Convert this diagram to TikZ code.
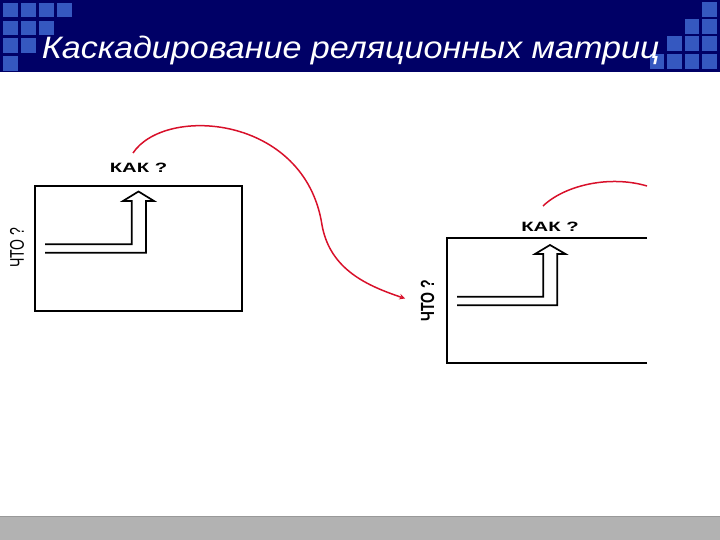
\documentclass[tikz,border=0pt]{standalone}
\usepackage{fontspec}
\setmainfont{Liberation Sans}
\definecolor{navy}{HTML}{000066}
\definecolor{tile}{HTML}{3558C0}
\definecolor{band}{HTML}{B2B2B2}
\definecolor{curve}{HTML}{D8102A}
\begin{document}
\begin{tikzpicture}[x=1pt, y=-1pt, >=stealth,
        frame/.style={line width=1.9pt},
        hollow/.style={line width=1.7pt, line join=miter},
        how/.style={font=\fontsize{13.5}{13.5}\selectfont\bfseries, xscale=1.5},
        red link/.style={draw=curve, line width=1.5pt}]
    \useasboundingbox (0,0) rectangle (720,540);
    % header and footer
    \fill[navy] (0,0) rectangle (720,72);
    \foreach \c/\r in {0/0,1/0,2/0,3/0,0/1,1/1,2/1,0/2,1/2,0/3}
        \fill[tile] (3+18*\c,3+17.7*\r) rectangle ++(14.5,14.5);
    \foreach \c/\r in {3/0,2/1,3/1,1/2,2/2,3/2,0/3,1/3,2/3,3/3}
        \fill[tile] (649.5+17.5*\c,2+17.2*\r) rectangle ++(14.5,15);
    \node[anchor=base west, text=white, font=\fontsize{31}{31}\selectfont\itshape, xscale=1.1] (title) at (38,59) {Каскадирование реляционных матриц};
    \fill[band] (0,516) rectangle (720,540);
    \draw[gray!80, line width=1pt] (0,516) -- (720,516);
    % first matrix
    \draw[frame] (35,186) rectangle (242,311);
    \draw[hollow] (45,244.3) -- (131.7,244.3) -- (131.7,201) -- (123,201) -- (138.5,191.5) -- (154,201) -- (146,201) -- (146,252.7) -- (45,252.7);
    \node[how] (how1) at (138.5,168) {КАК ?};
    \node[rotate=90, font=\fontsize{18}{18}\selectfont] (what1) at (17,248) {\scalebox{0.78}[1.1]{ЧТО ?}};
    % second matrix
    \draw[frame] (647,238.3) -- (447,238.3);
    \draw[frame] (647,363.3) -- (447,363.3);
    \draw[line width=2.8pt] (447,237.3) -- (447,364.3);
    \draw[hollow] (457,296.7) -- (543.3,296.7) -- (543.3,254) -- (535,254) -- (550,245) -- (565.5,254) -- (557.3,254) -- (557.3,305.3) -- (457,305.3);
    \node[how] (how2) at (550,226.5) {КАК ?};
    \node[rotate=90, font=\fontsize{19}{19}\selectfont\bfseries] (what2) at (427.5,301) {\scalebox{0.74}[1]{ЧТО ?}};
    % cascade links
    \coordinate (from1) at (133,153);
    \coordinate (to2) at (405,298.5);
    \coordinate (from2) at (543,206);
    \coordinate (out2) at (647,186);
    \draw[red link, ->] (from1) .. controls (165,105) and (305,115) .. (322,225) .. controls (330,270) and (368,286) .. (to2);
    \draw[red link] (from2) .. controls (565,185) and (610,175) .. (out2);
\end{tikzpicture}
\end{document}
